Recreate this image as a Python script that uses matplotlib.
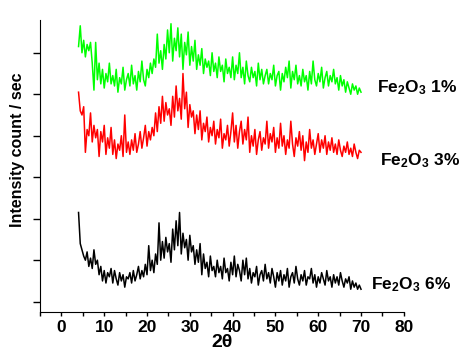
import numpy as np
import matplotlib
matplotlib.use("Agg")
import matplotlib.pyplot as plt
from matplotlib.ticker import MultipleLocator

plt.rcParams['font.family'] = ['Liberation Sans', 'DejaVu Sans']
plt.rcParams['mathtext.default'] = 'regular'

# 2-theta sampling grid (deg)
theta_start, theta_end = 4.0, 70.0

green_1pct = [
    6400, 6900, 6250, 6550, 6150, 6450, 6300, 6500, 6000, 5350,
    6500, 5600, 6000, 5500, 5850, 5400, 5750, 5550, 6000, 5500,
    5700, 5450, 5850, 5300, 5650, 5500, 5900, 5350, 5600, 5750,
    5450, 5950, 5500, 5700, 5350, 5800, 5550, 6050, 5600, 5450,
    5850, 5650, 6000, 5750, 6100, 5900, 6700, 6000, 6300, 5850,
    6450, 6100, 6800, 6250, 6950, 6050, 6600, 6300, 6850, 6150,
    6700, 5850, 6500, 6200, 6750, 5950, 6400, 6050, 6550, 5850,
    6200, 5950, 6350, 5750, 6100, 5900, 6050, 5700, 6250, 5800,
    6000, 5650, 6150, 5800, 5950, 5550, 6100, 5750, 5900, 5650,
    6150, 5600, 5950, 5750, 6250, 5650, 5900, 5500, 6050, 5700,
    5550, 5900, 5650, 5800, 5450, 6000, 5600, 5850, 5500, 5700,
    5850, 5500, 5750, 5600, 5950, 5450, 5700, 5800, 5350, 5750,
    5550, 5900, 5650, 6050, 5400, 5800, 5600, 5950, 5500, 5700,
    5450, 5850, 5550, 5700, 5350, 5800, 5500, 6050, 5600, 5450,
    5750, 5550, 5900, 5400, 5650, 5800, 5450, 5700, 5550, 5850,
    5500, 5650, 5350, 5700, 5450, 5600, 5300, 5550, 5400, 5250,
    5500, 5350, 5450, 5250, 5400, 5300,
]

red_3pct = [
    5300, 4850, 4750, 4950, 3850, 4400, 4250, 4800, 4100, 4500,
    4200, 4400, 3750, 4350, 4100, 4500, 3800, 4200, 3950, 4450,
    3800, 4150, 3700, 4050, 3900, 4250, 3750, 4750, 3850, 4100,
    3800, 4150, 3900, 4300, 3850, 4050, 4350, 3950, 4200, 4500,
    4000, 4350, 4150, 4450, 4250, 4800, 4350, 4950, 4550, 5200,
    4600, 5050, 4750, 4900, 4500, 5200, 4700, 5450, 4850, 5150,
    4650, 5750, 4900, 5300, 4450, 5000, 4700, 4850, 4300, 4750,
    4400, 4850, 4150, 4550, 4350, 4700, 4100, 4450, 4250, 4600,
    4050, 4400, 4200, 4650, 3950, 4300, 4150, 4500, 4000, 4350,
    4800, 4100, 4500, 3950, 4350, 4600, 4050, 4400, 4150, 4700,
    3850, 4250, 4000, 4400, 3800, 4150, 4350, 3900, 4200, 4050,
    4600, 3950, 4300, 4100, 4450, 3850, 4200, 3950, 4550, 4000,
    4250, 3800, 4150, 3950, 4600, 4050, 3750, 4200, 4000, 4350,
    3900, 4250, 3650, 4100, 3850, 4400, 3950, 4150, 3800, 4050,
    4300, 3850, 4150, 3950, 4250, 3800, 4100, 3900, 4200, 3850,
    4050, 3800, 4150, 3900, 3750, 4000, 3850, 4100, 3800, 3950,
    3750, 4050, 3850, 3700, 3900, 3850,
]

black_6pct = [
    2400, 1650, 1500, 1350, 1250, 1450, 1100, 1300, 1050, 1500,
    1150, 1250, 900, 1100, 750, 1000, 700, 950, 850, 1050,
    700, 1000, 800, 650, 950, 750, 900, 600, 850, 800,
    950, 700, 1000, 750, 900, 1100, 800, 1000, 850, 1150,
    900, 1600, 1000, 1250, 950, 1400, 1150, 2150, 1250, 1700,
    1300, 1800, 1450, 1650, 1200, 2000, 1500, 2200, 1600, 2400,
    1400, 1900, 1550, 1750, 1250, 1850, 1450, 1600, 1150, 1500,
    1200, 1650, 900, 1400, 1050, 1200, 850, 1350, 1000, 1100,
    850, 1250, 950, 1100, 800, 1300, 950, 1050, 750, 1200,
    900, 1350, 850, 1150, 1000, 750, 1250, 900, 1300, 800,
    1050, 700, 950, 850, 1100, 650, 900, 1000, 750, 1150,
    800, 950, 700, 1050, 850, 600, 950, 750, 1000, 650,
    900, 750, 1050, 600, 850, 950, 700, 1100, 800, 650,
    900, 750, 1000, 650, 850, 800, 1050, 700, 900, 600,
    850, 700, 950, 800, 650, 1000, 750, 850, 600, 900,
    700, 850, 650, 950, 750, 600, 800, 700, 850, 550,
    750, 600, 700, 550, 650, 550,
]

labels = ["Fe$_2$O$_3$ 1%", "Fe$_2$O$_3$ 3%", "Fe$_2$O$_3$ 6%"]
colors = ["#00ff00", "#ff0000", "#000000"]
series = [green_1pct, red_3pct, black_6pct]
label_pos = [(73.7, 5420), (74.4, 3660), (72.3, 650)]

x_ticks = [0, 10, 20, 30, 40, 50, 60, 70, 80]
y_ticks = [250, 1250, 2250, 3250, 4250, 5250, 6250]

fig = plt.figure(figsize=(4.67, 3.53), dpi=100)
ax = fig.add_axes([0.0857, 0.116, 0.779, 0.827])

for vals, col, lab, (tx, ty) in zip(series, colors, labels, label_pos):
    x = np.linspace(theta_start, theta_end, len(vals))
    ax.plot(x, vals, color=col, lw=1.1)
    ax.text(tx, ty, lab, fontsize=12.5, fontweight='bold', va='center', ha='left')

ax.set_xlim(-5, 80)
ax.set_ylim(0, 7037)
ax.set_xticks(x_ticks)
ax.xaxis.set_minor_locator(MultipleLocator(5))
ax.set_yticks(y_ticks)
ax.set_yticklabels([])
for s in ['top', 'right']:
    ax.spines[s].set_visible(False)
ax.tick_params(axis='x', which='both', direction='out', length=3, width=1, pad=3)
ax.tick_params(axis='y', which='both', direction='out', length=5, width=1)
for lab in ax.get_xticklabels():
    lab.set_fontweight('bold')
    lab.set_fontsize(12.5)
ax.set_xlabel("2θ", fontsize=14, fontweight='bold', labelpad=-1)
ax.set_ylabel("Intensity count / sec", fontsize=11.5, fontweight='bold')
ax.yaxis.set_label_coords(-0.042, 0.555)

fig.savefig("out.png", dpi=100)
